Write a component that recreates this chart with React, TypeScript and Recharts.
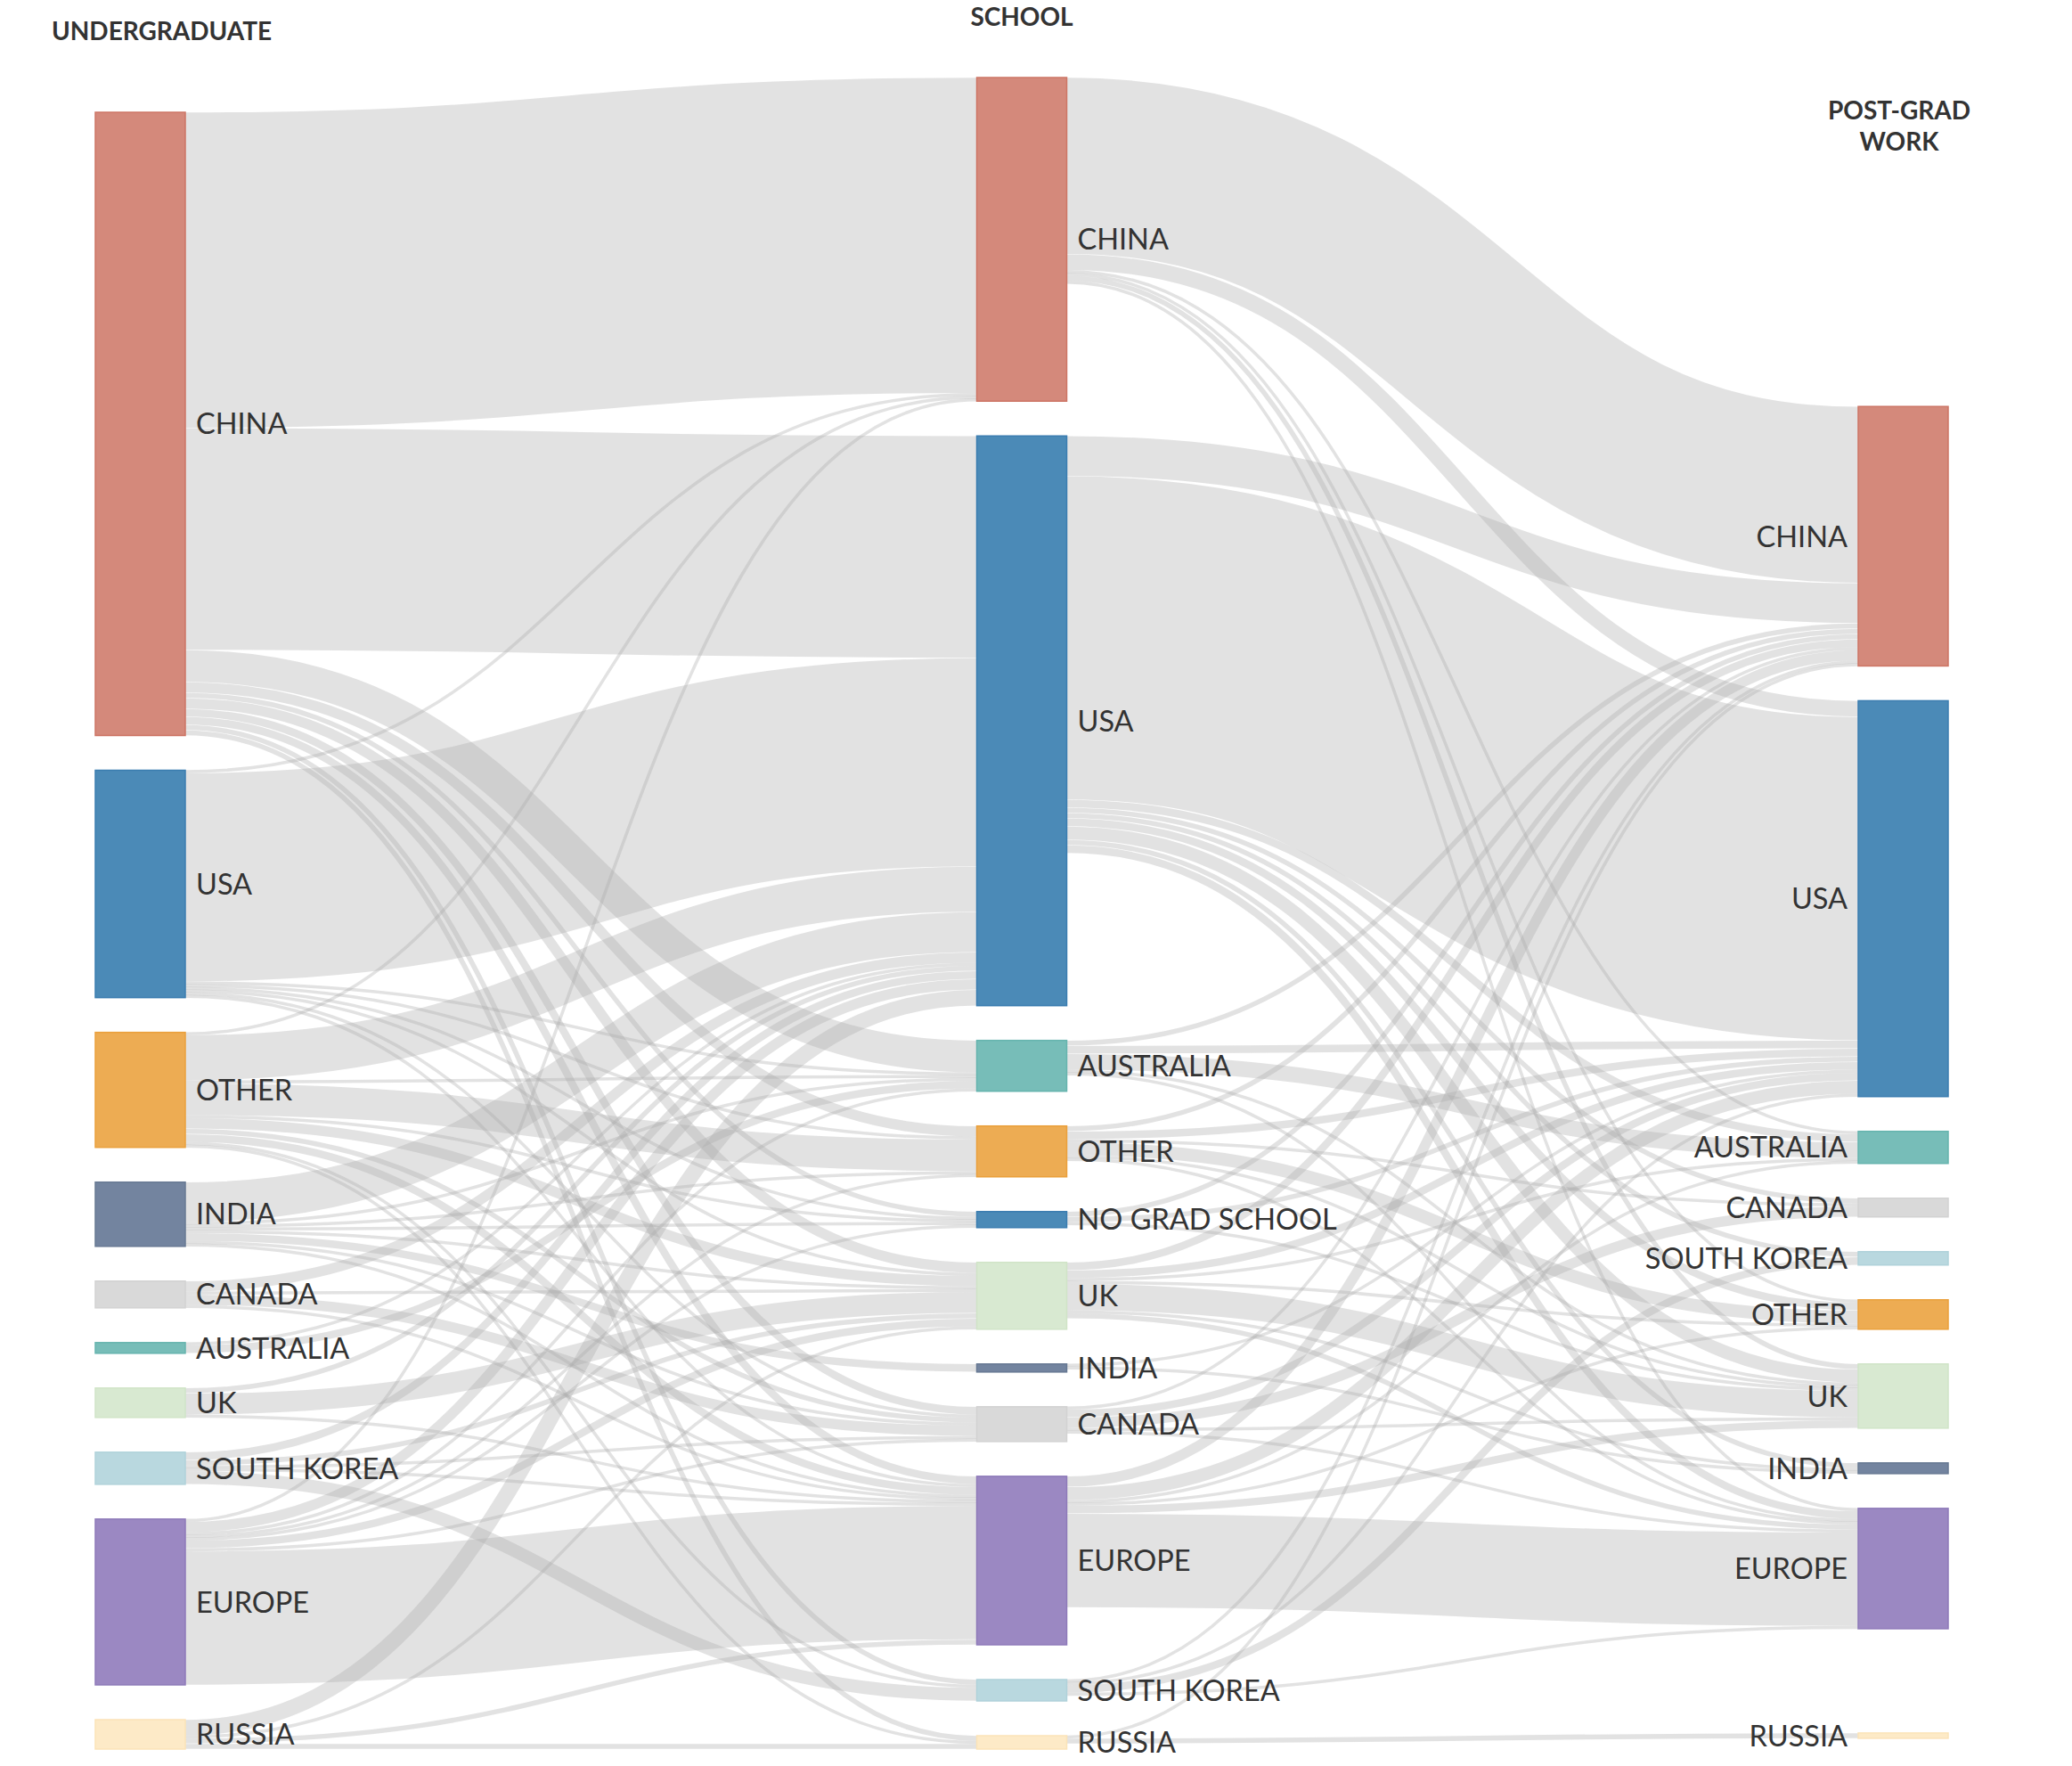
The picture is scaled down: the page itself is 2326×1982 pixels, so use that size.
import React from 'react';
import { Sankey } from 'recharts';

// column categories, top to bottom
const undergradCountries = ['CHINA', 'USA', 'OTHER', 'INDIA', 'CANADA', 'AUSTRALIA', 'UK', 'SOUTH KOREA', 'EUROPE', 'RUSSIA'];
const schoolCountries = ['CHINA', 'USA', 'AUSTRALIA', 'OTHER', 'NO GRAD SCHOOL', 'UK', 'INDIA', 'CANADA', 'EUROPE', 'SOUTH KOREA', 'RUSSIA'];
const workCountries = ['CHINA', 'USA', 'AUSTRALIA', 'CANADA', 'SOUTH KOREA', 'OTHER', 'UK', 'INDIA', 'EUROPE', 'RUSSIA'];

// rows = undergrad, cols = school (same order as schoolCountries)
const undergradToSchool = [
  [118, 83, 12, 4, 2, 4, 0, 3, 3, 2, 2],
  [1, 78, 1, 1, 1, 1, 0, 1, 1, 0, 0],
  [1, 17, 1, 12, 1, 4, 0, 2, 3, 1, 1],
  [0, 15, 1, 1, 1, 1, 3, 1, 1, 0, 0],
  [0, 4, 0, 0, 0, 1, 0, 4, 1, 0, 0],
  [0, 1, 3, 0, 0, 0, 0, 0, 0, 0, 0],
  [0, 2, 0, 0, 0, 8, 0, 0, 1, 0, 0],
  [0, 3, 0, 0, 0, 2, 0, 1, 1, 5, 0],
  [1, 4, 1, 1, 1, 3, 0, 1, 50, 0, 0],
  [0, 6, 0, 0, 0, 1, 0, 0, 2, 0, 2],
];

// rows = school, cols = post-grad work (same order as workCountries)
const schoolToWork = [
  [66, 6, 1, 0, 0, 1, 2, 0, 1, 0],
  [15, 121, 3, 2, 2, 3, 5, 2, 3, 0],
  [2, 3, 6, 0, 0, 0, 1, 0, 1, 0],
  [2, 3, 0, 1, 0, 5, 1, 0, 1, 0],
  [2, 2, 0, 0, 0, 0, 1, 0, 0, 0],
  [3, 3, 1, 0, 0, 1, 10, 1, 2, 0],
  [0, 1, 0, 0, 0, 0, 0, 1, 0, 0],
  [1, 3, 0, 4, 0, 0, 1, 0, 1, 0],
  [4, 5, 1, 0, 0, 1, 3, 0, 35, 0],
  [1, 1, 0, 0, 3, 0, 0, 0, 1, 0],
  [1, 0, 0, 0, 0, 0, 0, 0, 0, 2],
];

// hidden space above the post-grad column (same units as the flows)
const workTopGap = 110;

const nodeColors: Record<string, [string, string]> = {
  CHINA: ['#d4897b', '#cd7565'],
  USA: ['#4b8ab7', '#3b7db0'],
  AUSTRALIA: ['#77bdb8', '#66b4ae'],
  OTHER: ['#edac53', '#eaa03c'],
  'NO GRAD SCHOOL': ['#4b8ab7', '#3b7db0'],
  UK: ['#d8e9d1', '#d0e4c7'],
  INDIA: ['#73849f', '#677993'],
  CANADA: ['#d9d9d9', '#d2d2d2'],
  EUROPE: ['#9b88c2', '#8e7ab9'],
  'SOUTH KOREA': ['#b9d8df', '#b0d2da'],
  RUSSIA: ['#fdeac7', '#fbe3b8'],
};

const buildData = () => {
  const nodes: any[] = [];
  const links: any[] = [];
  const add = (name: string, spacer = false) => nodes.push({ name, spacer }) - 1;

  const leftSpacer = add('', true);
  const uIdx = undergradCountries.map((n) => add(n));
  const sIdx = schoolCountries.map((n) => add(n));
  const topSpacer = add('', true);
  let gapSpacer = -1;
  const wIdx = workCountries.map((n) => {
    if (n === 'RUSSIA') {
      gapSpacer = add('', true);
      add('', true);
    }
    return add(n);
  });

  // spacer links: net zero out of the left spacer, so it keeps no height
  links.push({ source: leftSpacer, target: topSpacer, value: workTopGap, spacer: true });
  links.push({ source: leftSpacer, target: gapSpacer, value: -workTopGap, spacer: true });

  undergradToSchool.forEach((row, i) =>
    row.forEach((v, j) => {
      if (v > 0) links.push({ source: uIdx[i], target: sIdx[j], value: v });
    })
  );
  schoolToWork.forEach((row, i) =>
    row.forEach((v, j) => {
      if (v > 0) links.push({ source: sIdx[i], target: wIdx[j], value: v });
    })
  );
  return { nodes, links };
};

const data = buildData();

const FlowLink = (props: any) => {
  const { sourceX, targetX, sourceY, targetY, sourceControlX, targetControlX, linkWidth, payload } = props;
  if (payload?.spacer || payload?.source?.spacer || payload?.target?.spacer) return <g />;
  return (
    <path
      d={`M${sourceX},${sourceY}C${sourceControlX},${sourceY} ${targetControlX},${targetY} ${targetX},${targetY}`}
      fill="none"
      stroke="#aaaaaa"
      strokeOpacity={0.34}
      strokeWidth={Math.max(linkWidth - 0.5, 3.5)}
    />
  );
};

const CountryNode = (props: any) => {
  const { x, y, width, height, payload } = props;
  if (payload.spacer) return <g />;
  const [fill, stroke] = nodeColors[payload.name] ?? ['#ccc', '#bbb'];
  const onRight = payload.depth === 2;
  return (
    <g>
      <rect x={x} y={y} width={width} height={height} fill={fill} stroke={stroke} strokeWidth={1.5} />
      <text
        x={onRight ? x - 12 : x + width + 12}
        y={y + height / 2}
        dy="0.36em"
        textAnchor={onRight ? 'end' : 'start'}
        fontFamily="Lato, sans-serif"
        fontSize={32.5}
        fill="#333"
      >
        {payload.name}
      </text>
    </g>
  );
};

const headStyle = { fontFamily: 'Lato, sans-serif', fontSize: 28, fontWeight: 700, fill: '#333' };

export default function App() {
  return (
    <div style={{ position: 'absolute', left: 0, top: 0, width: 2326, height: 1982, background: '#fff' }}>
      <Sankey
        width={2326}
        height={1982}
        data={data}
        margin={{ top: 87, right: 139, bottom: 19, left: 107 }}
        nodeWidth={101}
        nodePadding={39}
        iterations={0}
        sort={false}
        node={<CountryNode />}
        link={<FlowLink />}
      />
      <svg width={2326} height={1982} style={{ position: 'absolute', left: 0, top: 0, pointerEvents: 'none' }}>
        <text x={58} y={45} {...headStyle}>UNDERGRADUATE</text>
        <text x={1147} y={29} textAnchor="middle" {...headStyle}>SCHOOL</text>
        <text x={2132} y={134} textAnchor="middle" {...headStyle}>POST-GRAD</text>
        <text x={2132} y={169} textAnchor="middle" {...headStyle}>WORK</text>
      </svg>
    </div>
  );
}
